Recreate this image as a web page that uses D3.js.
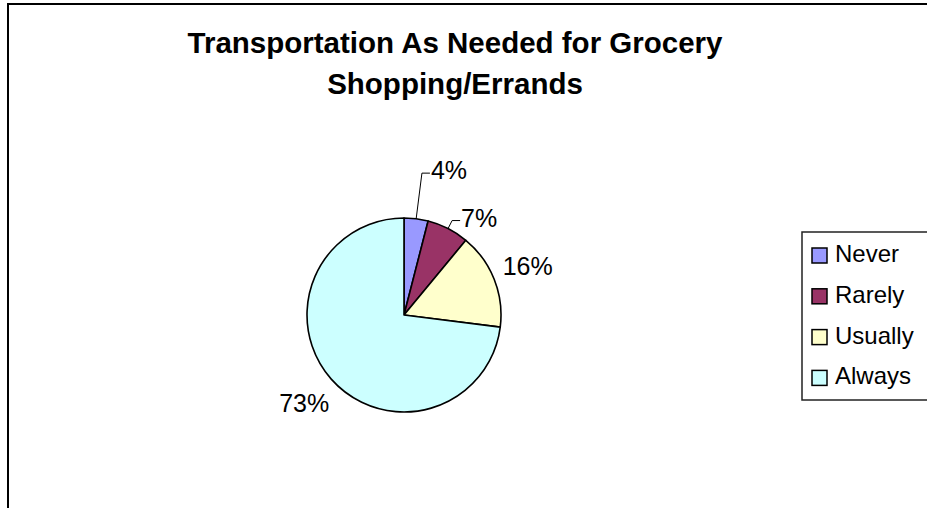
<!DOCTYPE html>
<html lang="en">
<head>
    <meta charset="utf-8">
    <style type="text/css">
        body { margin: 0; background: #fff; }
        svg { display: block; font-family: "Liberation Sans", Arial, sans-serif; }
    </style>
    <script src="https://cdn.jsdelivr.net/npm/d3@7"></script>
</head>
<body>
    <script>
        // data
        let categories = ["Never", "Rarely", "Usually", "Always"];
        let values = [4, 7, 16, 73];
        let colors = ["#9999ff", "#993366", "#ffffcc", "#ccffff"];
        let titleLines = ["Transportation As Needed for Grocery", "Shopping/Errands"];

        let w = 927;
        let h = 508;
        let cx = 404, cy = 315, r = 97;

        let svg = d3.select("body")
                    .append("svg")
                    .attr("width", w)
                    .attr("height", h);

        // outer chart frame (runs off the right and bottom)
        svg.append("rect")
            .attr("x", 8).attr("y", 4)
            .attr("width", 960).attr("height", 560)
            .attr("fill", "#fff")
            .attr("stroke", "#000")
            .attr("stroke-width", 2);

        svg.selectAll(".title")
            .data(titleLines)
            .enter()
            .append("text")
            .attr("class", "title")
            .attr("x", 455)
            .attr("y", (d, i) => 53 + i * 41)
            .attr("text-anchor", "middle")
            .attr("font-size", "29.5px")
            .attr("font-weight", "bold")
            .text(d => d);

        let pie = d3.pie().sort(null).value(d => d);
        let arcs = pie(values);
        let arc = d3.arc().innerRadius(0).outerRadius(r);

        let g = svg.append("g").attr("transform", "translate(" + cx + "," + cy + ")");

        g.selectAll("path")
            .data(arcs)
            .enter()
            .append("path")
            .attr("d", arc)
            .attr("fill", (d, i) => colors[i])
            .attr("stroke", "#000")
            .attr("stroke-width", 1.6)
            .attr("stroke-linejoin", "round");

        // label placement: big slices sit on a ring, small ones get a leader line
        let polar = (a, rad) => [Math.sin(a) * rad, -Math.cos(a) * rad];
        let leaderRadius = [143, 106, null, null];
        let labelRadius = 133;

        arcs.forEach((d, i) => {
            let mid = (d.startAngle + d.endAngle) / 2;
            let txt = d3.format(".0%")(d.data / d3.sum(values));
            if (leaderRadius[i]) {
                let e = polar(mid, r);
                let k = polar(mid, leaderRadius[i]);
                g.append("path")
                    .attr("d", d3.line()([e, k, [k[0] + 8, k[1]]]))
                    .attr("fill", "none")
                    .attr("stroke", "#000")
                    .attr("stroke-width", 1);
                g.append("text")
                    .attr("x", k[0] + 9)
                    .attr("y", k[1] + 6)
                    .attr("font-size", "25px")
                    .text(txt);
            } else {
                let p = polar(mid, labelRadius);
                g.append("text")
                    .attr("x", p[0])
                    .attr("y", p[1] + 9)
                    .attr("text-anchor", "middle")
                    .attr("font-size", "25px")
                    .text(txt);
            }
        });

        // legend
        let legend = svg.append("g").attr("transform", "translate(802,232)");
        legend.append("rect")
            .attr("width", 150).attr("height", 168)
            .attr("fill", "#fff")
            .attr("stroke", "#222")
            .attr("stroke-width", 1.5);

        let items = legend.selectAll(".item")
            .data(categories)
            .enter()
            .append("g")
            .attr("class", "item")
            .attr("transform", (d, i) => "translate(0," + (30 + i * 40.8) + ")");

        items.append("rect")
            .attr("x", 10).attr("y", -14)
            .attr("width", 15).attr("height", 15)
            .attr("fill", (d, i) => colors[i])
            .attr("stroke", "#000")
            .attr("stroke-width", 1.5);

        items.append("text")
            .attr("x", 33)
            .attr("y", 0)
            .attr("font-size", "24px")
            .text(d => d);
    </script>
</body>
</html>
